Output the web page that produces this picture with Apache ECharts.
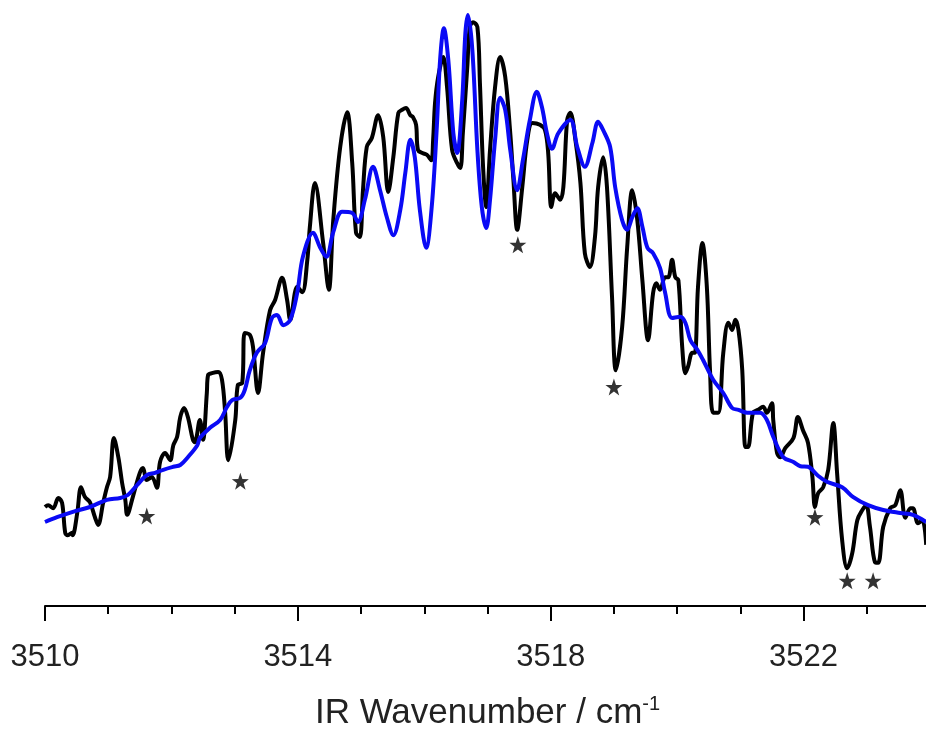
<!DOCTYPE html>
<html>
<head>
<meta charset="utf-8">
<script src="https://cdn.jsdelivr.net/npm/echarts@6/dist/echarts.min.js"></script>
<style>
html,body{margin:0;padding:0;background:#fff;}
#chart{width:926px;height:730px;}
</style>
</head>
<body>
<div id="chart"></div>
<script>
// Experimental spectrum (black): [wavenumber cm-1, intensity %]
var experimental = [
[3510.00,16.5],[3510.05,16.8],[3510.13,16.3],[3510.21,18.0],[3510.27,17.2],[3510.32,12.2],[3510.36,11.8],[3510.43,12.2],[3510.44,11.8],
[3510.51,15.5],[3510.57,19.8],[3510.63,18.2],[3510.71,17.3],[3510.79,14.8],[3510.84,13.5],[3510.92,17.2],[3510.98,19.8],[3511.03,21.5],
[3511.09,28.0],[3511.16,24.8],[3511.22,20.5],[3511.27,17.7],[3511.30,15.2],[3511.39,18.2],[3511.50,22.2],[3511.55,23.0],[3511.61,21.0],
[3511.69,21.5],[3511.77,19.7],[3511.82,24.0],[3511.90,25.5],[3511.98,24.3],[3512.03,26.8],[3512.09,28.2],[3512.14,31.5],[3512.20,33.0],
[3512.26,31.5],[3512.34,27.7],[3512.37,27.3],[3512.45,31.0],[3512.50,27.7],[3512.56,35.5],[3512.58,38.5],[3512.64,38.8],[3512.74,39.0],
[3512.80,37.7],[3512.85,32.2],[3512.90,24.3],[3513.01,31.0],[3513.05,36.8],[3513.12,37.2],[3513.16,45.5],[3513.24,45.2],[3513.29,43.2],
[3513.37,35.5],[3513.45,42.2],[3513.56,49.3],[3513.64,51.0],[3513.75,54.7],[3513.83,51.0],[3513.88,47.7],[3513.99,53.2],[3514.07,52.3],
[3514.15,57.7],[3514.19,63.2],[3514.27,70.5],[3514.40,60.5],[3514.49,52.7],[3514.56,64.3],[3514.67,76.5],[3514.78,82.3],[3514.86,73.8],
[3514.92,62.2],[3514.98,61.5],[3515.03,69.3],[3515.09,76.5],[3515.17,78.0],[3515.27,81.8],[3515.35,78.2],[3515.43,69.0],[3515.51,74.8],
[3515.59,82.2],[3515.65,82.7],[3515.71,83.0],[3515.78,81.8],[3515.82,81.5],[3515.87,80.2],[3515.90,76.0],[3515.97,75.5],[3516.04,75.2],
[3516.11,74.3],[3516.14,77.7],[3516.17,83.8],[3516.22,88.2],[3516.30,91.5],[3516.36,86.5],[3516.44,76.0],[3516.52,73.8],[3516.57,73.0],
[3516.61,78.8],[3516.68,89.8],[3516.72,96.5],[3516.77,97.3],[3516.84,96.5],[3516.88,87.2],[3516.93,73.2],[3516.98,66.5],[3517.04,76.0],
[3517.12,86.5],[3517.20,91.5],[3517.28,88.2],[3517.36,78.8],[3517.41,71.0],[3517.47,62.7],[3517.55,69.8],[3517.63,77.7],[3517.71,80.5],
[3517.83,80.2],[3517.91,79.3],[3517.96,75.5],[3518.01,66.5],[3518.07,68.8],[3518.15,67.7],[3518.20,69.8],[3518.26,81.0],[3518.31,82.2],
[3518.39,77.7],[3518.47,70.5],[3518.54,58.8],[3518.62,56.5],[3518.70,61.5],[3518.75,69.8],[3518.83,74.8],[3518.89,69.8],[3518.97,51.5],
[3519.03,39.3],[3519.13,46.5],[3519.21,59.8],[3519.29,69.3],[3519.37,64.3],[3519.45,54.3],[3519.54,44.3],[3519.62,52.2],[3519.67,53.8],
[3519.73,52.7],[3519.81,54.8],[3519.86,54.8],[3519.92,57.7],[3519.97,54.8],[3520.02,54.3],[3520.08,43.2],[3520.13,38.8],[3520.17,39.8],
[3520.24,42.2],[3520.28,42.2],[3520.33,53.2],[3520.40,60.5],[3520.47,53.2],[3520.52,39.3],[3520.57,32.2],[3520.65,32.2],[3520.73,42.2],
[3520.81,47.2],[3520.87,46.0],[3520.92,47.7],[3520.97,46.0],[3521.03,39.3],[3521.08,26.5],[3521.12,26.5],[3521.20,32.2],[3521.28,32.7],
[3521.36,33.2],[3521.42,32.2],[3521.50,33.8],[3521.52,31.0],[3521.58,25.5],[3521.63,24.8],[3521.71,26.3],[3521.84,28.0],[3521.91,31.5],
[3521.99,29.3],[3522.07,27.2],[3522.14,21.5],[3522.18,16.5],[3522.23,18.8],[3522.31,19.8],[3522.39,22.7],[3522.47,30.5],[3522.53,22.2],
[3522.61,11.0],[3522.69,6.3],[3522.77,8.8],[3522.85,14.3],[3522.93,16.0],[3522.99,16.8],[3523.05,13.2],[3523.13,7.3],[3523.18,7.2],
[3523.26,13.2],[3523.37,16.3],[3523.45,16.8],[3523.53,19.3],[3523.61,14.7],[3523.69,16.3],[3523.73,16.3],[3523.81,13.8],[3523.88,14.3],
[3523.94,10.2]
];

// Simulated spectrum (blue)
var simulated = [
[3510.00,14.0],[3510.19,14.8],[3510.44,15.7],[3510.71,16.5],[3510.98,17.7],[3511.19,18.0],[3511.31,18.5],[3511.46,20.2],[3511.61,21.8],
[3511.74,22.2],[3511.87,22.7],[3512.03,23.2],[3512.14,23.5],[3512.26,24.8],[3512.41,26.8],[3512.45,28.0],[3512.61,29.7],[3512.77,31.0],
[3512.88,33.2],[3512.96,34.3],[3513.09,34.7],[3513.16,36.0],[3513.24,39.3],[3513.35,42.2],[3513.48,43.8],[3513.59,48.0],[3513.67,48.5],
[3513.77,46.8],[3513.88,47.7],[3513.99,52.2],[3514.08,58.2],[3514.24,62.2],[3514.35,59.8],[3514.45,58.2],[3514.56,62.3],[3514.70,65.7],
[3514.86,65.5],[3514.95,64.0],[3515.06,67.7],[3515.19,73.2],[3515.30,69.3],[3515.41,64.7],[3515.51,61.8],[3515.62,66.0],[3515.70,72.2],
[3515.78,77.7],[3515.85,74.8],[3515.93,66.0],[3516.03,59.7],[3516.12,66.8],[3516.20,80.2],[3516.25,91.0],[3516.31,96.3],[3516.38,91.0],
[3516.46,78.8],[3516.52,75.5],[3516.60,84.3],[3516.65,95.5],[3516.69,98.5],[3516.76,92.7],[3516.84,76.0],[3516.91,66.5],[3516.98,63.0],
[3517.04,67.7],[3517.12,77.7],[3517.20,84.7],[3517.28,82.7],[3517.36,76.0],[3517.47,69.3],[3517.56,74.3],[3517.67,81.0],[3517.78,85.7],
[3517.86,83.2],[3517.94,78.8],[3518.02,76.2],[3518.12,78.8],[3518.31,81.0],[3518.42,76.5],[3518.54,73.2],[3518.66,77.2],[3518.75,80.7],
[3518.83,79.3],[3518.94,76.5],[3519.02,69.8],[3519.13,64.3],[3519.21,62.7],[3519.29,64.8],[3519.37,66.3],[3519.45,63.2],[3519.53,59.7],
[3519.62,58.8],[3519.73,56.3],[3519.81,52.2],[3519.92,48.0],[3520.05,48.2],[3520.13,47.2],[3520.21,44.3],[3520.32,42.7],[3520.41,41.0],
[3520.57,37.7],[3520.73,35.5],[3520.87,33.0],[3520.97,32.7],[3521.11,32.2],[3521.31,32.2],[3521.42,31.0],[3521.52,28.2],[3521.68,24.8],
[3521.84,24.0],[3521.95,23.3],[3522.07,23.2],[3522.22,21.8],[3522.37,20.7],[3522.61,19.8],[3522.78,18.2],[3523.02,16.8],[3523.26,16.0],
[3523.53,15.5],[3523.73,15.2],[3523.94,14.0]
];

// Star markers (assigned dips)
var starMarks = [
[3511.61,15.0],[3513.09,20.8],[3517.48,60.2],[3519.00,36.5],[3522.18,14.8],[3522.69,4.2],[3523.10,4.2]
];

var xTicks = [3510, 3514, 3518, 3522];
var xMin = 3510, xMax = 3524, xInterval = 4;
var xTitle = 'IR Wavenumber / cm';

var starPath = 'path://M50,0 L61.8,35.1 L98.9,35.5 L69.1,57.6 L80.2,93.0 L50,71.6 L19.8,93.0 L30.9,57.6 L1.1,35.5 L38.2,35.1 Z';
var fontFam = 'Liberation Sans, Arial, sans-serif';

var chart = echarts.init(document.getElementById('chart'), null, {renderer: 'canvas'});
chart.setOption({
  animation: false,
  backgroundColor: '#ffffff',
  grid: {left: 45, top: 6, width: 885, height: 600, containLabel: false, outerBoundsMode: 'none'},
  xAxis: {
    type: 'value', min: xMin, max: xMax, interval: xInterval,
    axisLine: {show: true, lineStyle: {color: '#000', width: 2}},
    axisTick: {show: true, length: 15, inside: false, lineStyle: {color: '#000', width: 2}},
    minorTick: {show: true, splitNumber: 4, length: 8, lineStyle: {color: '#000', width: 2}},
    splitLine: {show: false},
    axisLabel: {
      fontFamily: fontFam, fontSize: 31, color: '#222', margin: 36,
      formatter: function (v) { return xTicks.indexOf(v) >= 0 ? String(v) : ''; }
    },
    name: xTitle + '{sup|-1}',
    nameLocation: 'middle', nameGap: 88,
    nameTextStyle: {
      fontFamily: fontFam, fontSize: 35, color: '#222',
      rich: {sup: {fontFamily: fontFam, fontSize: 20, color: '#222', padding: [0, 0, 18, 0]}}
    }
  },
  yAxis: {
    type: 'value', min: 0, max: 100, show: false
  },
  series: [
    {
      type: 'line', data: experimental, showSymbol: false, smooth: 0.35,
      lineStyle: {color: '#000', width: 4}, z: 2
    },
    {
      type: 'line', data: simulated, showSymbol: false, smooth: 0.35,
      lineStyle: {color: '#0a0af5', width: 4}, z: 3
    },
    {
      type: 'scatter', data: starMarks, symbol: starPath, symbolSize: 17,
      itemStyle: {color: '#000'}, z: 4
    }
  ]
});
</script>
</body>
</html>
